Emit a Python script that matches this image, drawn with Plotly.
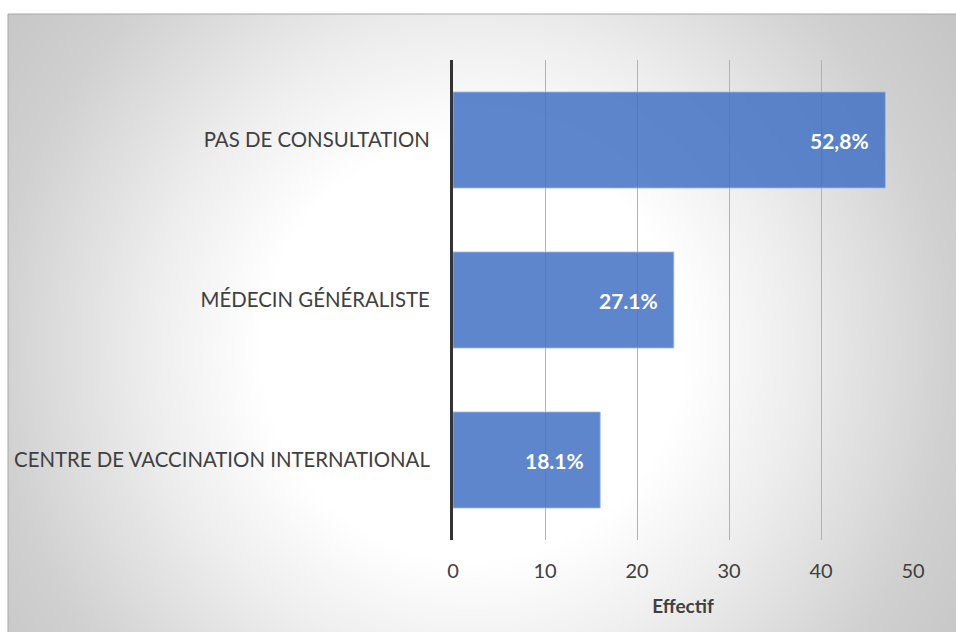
import numpy as np
import plotly.graph_objects as go

# Data
categories = ["CENTRE DE VACCINATION INTERNATIONAL", "MÉDECIN GÉNÉRALISTE", "PAS DE CONSULTATION"]
counts = [16, 24, 47]
pct_labels = ["18.1%", "27.1%", "52,8%"]
x_ticks = [0, 10, 20, 30, 40, 50]

W, H = 956, 632
LEFT, TOP = 8, 14            # white strip around the chart frame
PW, PH = W - LEFT, H - TOP   # size of the shaded chart frame in px

FONT = "Lato"
TEXT = "#404040"

# Radial grey shading of the chart frame (white centre, grey corners)
gx = np.linspace(0, PW, 96)
gy = np.linspace(0, PH, 64)
GX, GY = np.meshgrid(gx, gy)
cx, cy = 472 - LEFT, 350 - TOP
dist = np.hypot(GX - cx, GY - cy)
shade = np.interp(dist, [0, 210, 320, 480, 600], [255, 255, 238, 208, 196])

fig = go.Figure()

fig.add_trace(go.Heatmap(
    x=gx, y=gy, z=shade, zmin=196, zmax=255, zsmooth="best",
    colorscale=[[0, "rgb(196,196,196)"], [1, "rgb(255,255,255)"]],
    showscale=False, hoverinfo="skip", xaxis="x", yaxis="y",
))

fig.add_trace(go.Bar(
    x=counts, y=categories, orientation="h", width=0.6,
    marker=dict(color="rgba(68,114,196,0.86)",
                line=dict(color="rgba(160,185,230,0.8)", width=1)),
    xaxis="x2", yaxis="y2", hoverinfo="skip",
))

# value labels inside the bar ends
for c, v, t in zip(categories, counts, pct_labels):
    fig.add_annotation(
        x=v, y=c, xref="x2", yref="y2", text=f"<b>{t}</b>", showarrow=False,
        xanchor="right", xshift=-14,
        font=dict(family=FONT, size=21, color="white"),
    )

x2_dom = [453 / W, 913 / W]
y2_dom = [1 - 540 / H, 1 - 60 / H]

# thin frame lines along the top and left edges of the shaded area
frame = dict(color="#a8a8a8", width=1)
shapes = [
    dict(type="line", xref="paper", yref="paper", x0=LEFT / W, x1=1, y0=PH / H, y1=PH / H, line=frame),
    dict(type="line", xref="paper", yref="paper", x0=LEFT / W, x1=LEFT / W, y0=0, y1=PH / H, line=frame),
]

fig.update_layout(
    width=W, height=H, autosize=False, margin=dict(l=0, r=0, t=0, b=0, pad=0),
    paper_bgcolor="white", plot_bgcolor="rgba(0,0,0,0)",
    showlegend=False, bargap=0.4,
    font=dict(family=FONT, color=TEXT),
    xaxis=dict(domain=[LEFT / W, 1], range=[0, PW], visible=False, fixedrange=True, automargin=False),
    yaxis=dict(domain=[0, PH / H], range=[PH, 0], visible=False, fixedrange=True, automargin=False),
    xaxis2=dict(
        domain=x2_dom, anchor="y2", range=[0, 50], tickvals=x_ticks, automargin=False,
        showgrid=True, gridcolor="rgb(178,178,178)", gridwidth=1,
        zeroline=False, showline=False, ticks="",
        tickfont=dict(family=FONT, size=20, color=TEXT), ticklabelstandoff=17,
        title=dict(text="<b>Effectif</b>", font=dict(family=FONT, size=19, color=TEXT), standoff=18),
    ),
    yaxis2=dict(
        domain=y2_dom, anchor="x2", type="category", categoryorder="array", automargin=False,
        categoryarray=categories, range=[-0.5, 2.5],
        showgrid=False, zeroline=False, showline=True, linecolor="#333333", linewidth=3,
        ticks="", tickfont=dict(family=FONT, size=20.4, color=TEXT), ticklabelstandoff=16,
    ),
    shapes=shapes,
)

fig.write_html("out.html", config={"displayModeBar": False})
